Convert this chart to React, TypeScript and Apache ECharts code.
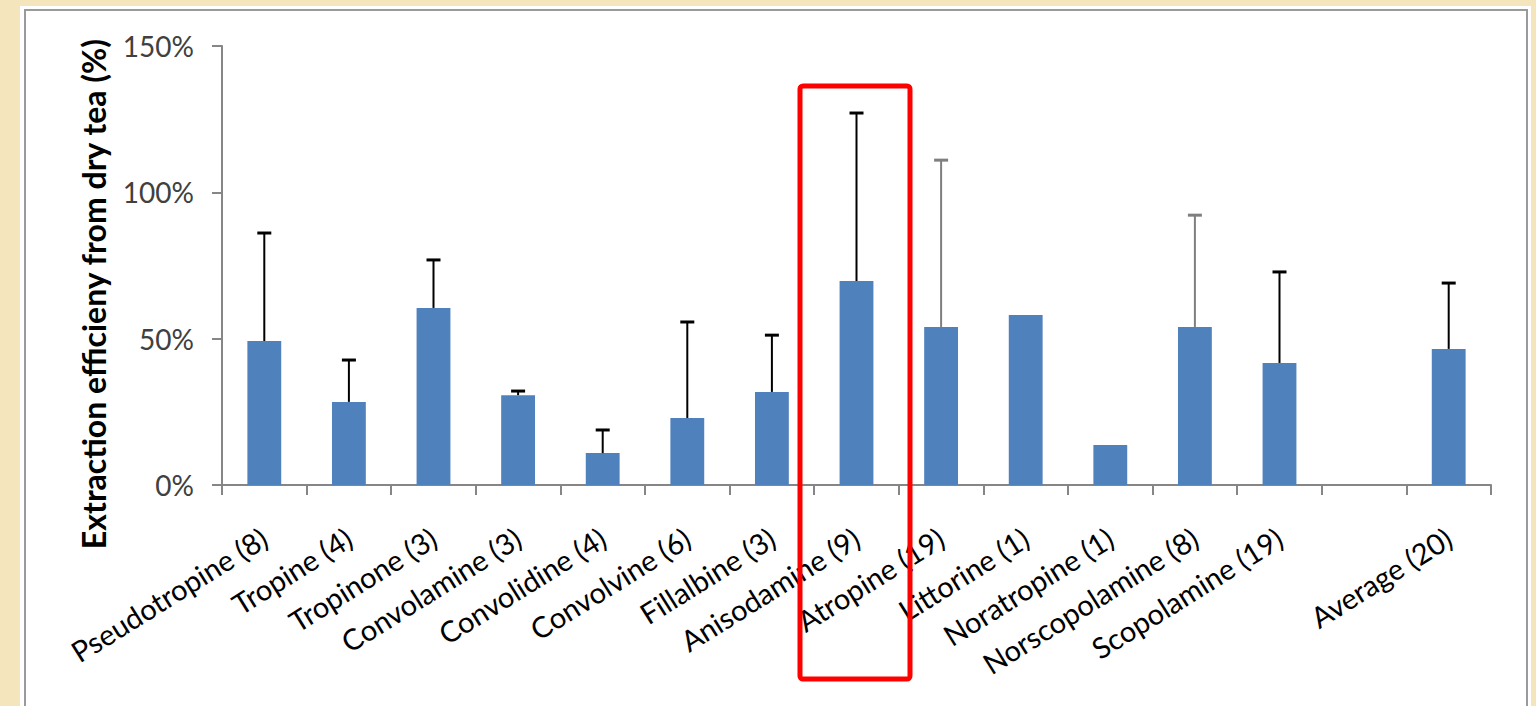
import React, { useEffect, useRef } from "react";
import * as echarts from "echarts";

const categories = [
  "Pseudotropine (8)",
  "Tropine (4)",
  "Tropinone (3)",
  "Convolamine (3)",
  "Convolidine (4)",
  "Convolvine (6)",
  "Fillalbine (3)",
  "Anisodamine (9)",
  "Atropine (19)",
  "Littorine (1)",
  "Noratropine (1)",
  "Norscopolamine (8)",
  "Scopolamine (19)",
  "",
  "Average (20)",
];
const means: (number | null)[] = [49.2, 28.4, 60.5, 30.7, 10.9, 22.9, 31.8, 69.7, 54.0, 58.1, 13.7, 54.0, 41.7, null, 46.5];
const upper: (number | null)[] = [86.1, 42.7, 76.9, 32.1, 18.8, 55.7, 51.2, 127.1, 111.0, null, null, 92.2, 72.8, null, 69.0];
const greyErrorCats = ["Atropine (19)", "Norscopolamine (8)"];
const yTicks = [0, 50, 100, 150];
const yTitle = "Extraction efficieny from dry tea (%)";

export default function App() {
  const ref = useRef<HTMLDivElement>(null);
  useEffect(() => {
    if (!ref.current) return;
    const chart = echarts.init(ref.current, null, { renderer: "svg" });
    const errData: any[] = [];
    categories.forEach((c, i) => {
      if (means[i] != null && upper[i] != null) errData.push([i, means[i], upper[i]]);
    });
    chart.setOption({
      animation: false,
      backgroundColor: "#F4E5BC",
      graphic: [
        { type: "rect", shape: { x: 20, y: 6, width: 1511, height: 710 }, style: { fill: "#ffffff" }, z: -10, silent: true },
        { type: "rect", shape: { x: 25, y: 10, width: 1502, height: 710 }, style: { fill: "#ffffff", stroke: "#9a9a9a", lineWidth: 2 }, z: -9, silent: true },
        {
          type: "text",
          x: 93,
          y: 294,
          rotation: Math.PI / 2,
          style: {
            text: yTitle,
            fontFamily: "Lato",
            fontWeight: "bold",
            fontSize: 32,
            fill: "#000000",
            align: "center",
            verticalAlign: "middle",
          },
          z: 50,
          silent: true,
        },
        { type: "rect", shape: { x: 800, y: 86, width: 110, height: 593, r: 3 }, style: { fill: "transparent", stroke: "#FF0000", lineWidth: 5 }, z: 100, silent: true },
      ],
      grid: { left: 222, right: 45, top: 46, bottom: 221, containLabel: false },
      xAxis: {
        type: "category",
        data: categories,
        axisLine: { lineStyle: { color: "#868686", width: 2 } },
        axisTick: { show: true, length: 10, lineStyle: { color: "#868686", width: 2 } },
        axisLabel: { rotate: 32, interval: 0, margin: 50, fontFamily: "Lato", fontSize: 29, color: "#000000" },
      },
      yAxis: {
        type: "value",
        min: 0,
        max: 150,
        interval: 50,
        axisLine: { show: true, lineStyle: { color: "#868686", width: 2 } },
        axisTick: { show: true, length: 10, lineStyle: { color: "#868686", width: 2 } },
        splitLine: { show: false },
        axisLabel: {
          fontFamily: "Lato",
          fontSize: 28,
          color: "#404040",
          margin: 28,
          formatter: (v: number) => (yTicks.includes(v) ? v + "%" : ""),
        },
      },
      series: [
        {
          type: "bar",
          data: means,
          barWidth: "40%",
          itemStyle: { color: "#4F81BD" },
        },
        {
          type: "custom",
          data: errData,
          z: 10,
          renderItem: (params: any, api: any) => {
            const idx = api.value(0);
            const base = api.coord([idx, api.value(1)]);
            const top = api.coord([idx, api.value(2)]);
            const stroke = greyErrorCats.includes(categories[idx]) ? "#7f7f7f" : "#000000";
            const hw = 7;
            return {
              type: "group",
              children: [
                { type: "line", shape: { x1: base[0], y1: base[1], x2: top[0], y2: top[1] }, style: { stroke, lineWidth: 2 } },
                { type: "line", shape: { x1: top[0] - hw, y1: top[1], x2: top[0] + hw, y2: top[1] }, style: { stroke, lineWidth: 3 } },
              ],
            };
          },
        },
      ],
    });
    return () => chart.dispose();
  }, []);
  return <div ref={ref} style={{ position: "fixed", left: 0, top: 0, width: 1536, height: 706 }} />;
}
